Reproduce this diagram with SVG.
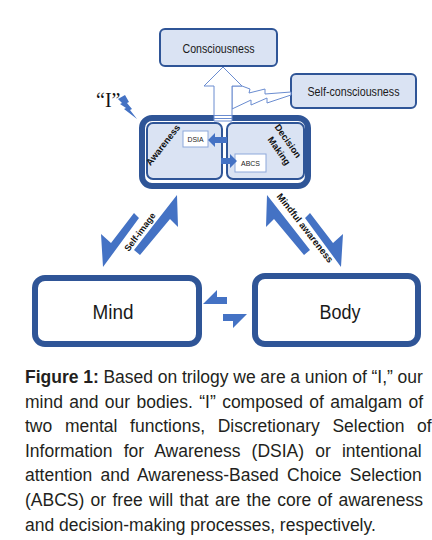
<svg xmlns="http://www.w3.org/2000/svg" width="432" height="540" viewBox="0 0 432 540">
<style>
.lb{fill:#dae3f3;stroke:#2f5597;stroke-width:2}
.thick{fill:#ffffff;stroke:#2f5597;stroke-width:6}
.sm{fill:#ffffff;stroke:#8ea9db;stroke-width:1}
.arr{fill:#4472c4;stroke:none}
.hol{fill:#ffffff;stroke:#6a8cd0;stroke-width:1}
.t{font-family:"Liberation Sans",Arial,sans-serif;fill:#1a1a1a}
.b{font-family:"Liberation Sans",Arial,sans-serif;font-weight:bold;fill:#111111}
.cap{font-family:"Liberation Sans",Arial,sans-serif;font-size:17.5px;fill:#231f20}
</style>
<rect x="0" y="0" width="432" height="540" fill="#ffffff"/>

<g id="node-consciousness">
<rect class="lb" x="160" y="29" width="117" height="37" rx="5"/>
<text class="t" x="218.5" y="52.5" font-size="12.5" text-anchor="middle" textLength="72" lengthAdjust="spacingAndGlyphs">Consciousness</text>
</g>

<g id="node-self-consciousness">
<rect class="lb" x="291" y="74" width="125" height="34" rx="5"/>
<text class="t" x="353.5" y="95.5" font-size="12.5" text-anchor="middle" textLength="92" lengthAdjust="spacingAndGlyphs">Self-consciousness</text>
</g>

<g id="node-I">
<rect class="thick" x="142" y="118" width="166" height="68" rx="10"/>
<text x="96" y="107" font-family="'Liberation Serif','Times New Roman',serif" font-size="20" fill="#111111">“I”</text>
<polygon class="arr" points="118,99 125,95 129,102 127,103 132,109 130,110 137,119 124,109 126,108 120,104 122,103"/>
</g>

<g id="node-awareness">
<rect class="lb" x="147" y="123" width="75" height="56" rx="6"/>
<text class="b" font-size="9.3" text-anchor="middle" transform="translate(163,145) rotate(-52)" dy="3.2">Awareness</text>
</g>

<g id="node-decision">
<rect class="lb" x="227" y="123" width="77" height="56" rx="6"/>
<text class="b" font-size="9.3" text-anchor="middle" transform="translate(288,141) rotate(55)"><tspan x="0" dy="3.2">Decision</tspan><tspan x="3" dy="13">Making</tspan></text>
</g>

<g id="node-dsia">
<rect class="sm" x="183" y="131" width="25" height="16"/>
<text class="t" x="195.5" y="142" font-size="7.8" text-anchor="middle" textLength="16" lengthAdjust="spacingAndGlyphs">DSIA</text>
</g>

<g id="node-abcs">
<rect class="sm" x="235" y="154" width="31" height="18"/>
<text class="t" x="250.5" y="166" font-size="7.8" text-anchor="middle" textLength="19" lengthAdjust="spacingAndGlyphs">ABCS</text>
</g>

<g id="node-mind">
<rect class="thick" x="35" y="278" width="164" height="66" rx="10"/>
<text class="t" x="113" y="318.5" font-size="20" text-anchor="middle" textLength="41" lengthAdjust="spacingAndGlyphs">Mind</text>
</g>

<g id="node-body">
<rect class="thick" x="255" y="276" width="163" height="68" rx="10"/>
<text class="t" x="340" y="318.5" font-size="20" text-anchor="middle" textLength="41" lengthAdjust="spacingAndGlyphs">Body</text>
</g>

<g id="connectors">
<polygon class="hol" points="232,86 242,86 250,89 249,93 265,89 265,94 291,92 291,95 267,103 267,98 251,105 251,100 232,109"/>
<polygon class="hol" points="223,67 242,86 232,86 232,121 214,121 214,86 204,86"/>
<line x1="214" y1="115.5" x2="232" y2="115.5" stroke="#6a8cd0" stroke-width="1"/>
<line x1="214" y1="118.5" x2="232" y2="118.5" stroke="#6a8cd0" stroke-width="1"/>
<polygon class="arr" points="208,140 215,133 215,137 227,137 227,143 215,143 215,147"/>
<polygon class="arr" points="237,161 230,154 230,158 221,158 221,164 230,164 230,168"/>
<polygon class="arr" points="103,267 101,234 111,243 134,213 139,218"/>
<polygon class="arr" points="177,195 178,227 170,219 140,255 134,250"/>
<polygon class="arr" points="341,267 343,234 333,243 310,213 305,218"/>
<polygon class="arr" points="267,195 266,227 274,219 304,255 310,250"/>
<polygon class="arr" points="203,304 217,290 217,297 227,297 227,304"/>
<polygon class="arr" points="247,314 233,328 233,321 223,321 223,314"/>
<text class="b" font-size="9" text-anchor="middle" transform="translate(140,232) rotate(-53)" dy="3">Self-image</text>
<text class="b" font-size="9.5" text-anchor="middle" transform="translate(305,228) rotate(52)" dy="3.2">Mindful awareness</text>
</g>

<g id="caption">
<text class="cap" x="25" y="383" word-spacing="-0.17"><tspan font-weight="bold">Figure 1:</tspan> Based on trilogy we are a union of “I,” our</text>
<text class="cap" x="25" y="407.6" word-spacing="1.49">mind and our bodies. “I” composed of amalgam of</text>
<text class="cap" x="25" y="432.2" word-spacing="7.8">two mental functions, Discretionary Selection of</text>
<text class="cap" x="25" y="456.8" word-spacing="6.26">Information for Awareness (DSIA) or intentional</text>
<text class="cap" x="25" y="481.4" word-spacing="3.45">attention and Awareness-Based Choice Selection</text>
<text class="cap" x="25" y="506" word-spacing="1.43">(ABCS) or free will that are the core of awareness</text>
<text class="cap" x="25" y="530.6">and decision-making processes, respectively.</text>
</g>
</svg>
